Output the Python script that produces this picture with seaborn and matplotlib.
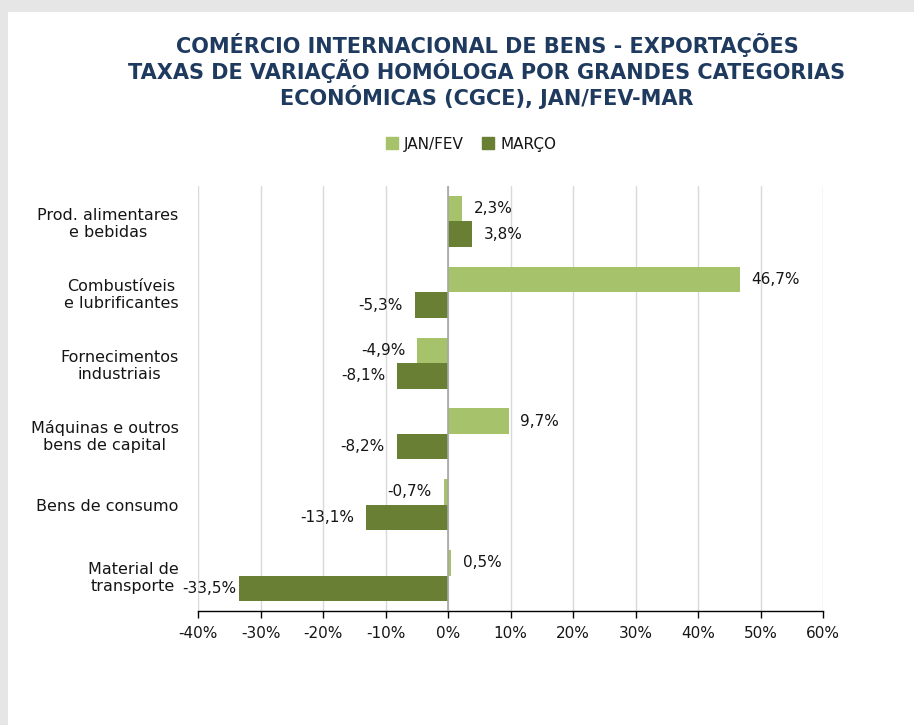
import pandas as pd
import matplotlib
matplotlib.use("Agg")
import matplotlib.pyplot as plt
from matplotlib.patches import Rectangle
from matplotlib.ticker import FuncFormatter, MultipleLocator
import seaborn as sns

categories = ["Prod. alimentares\ne bebidas", "Combustíveis\ne lubrificantes",
              "Fornecimentos\nindustriais", "Máquinas e outros\nbens de capital",
              "Bens de consumo", "Material de\ntransporte"]
jan_fev = [2.3, 46.7, -4.9, 9.7, -0.7, 0.5]
marco = [3.8, -5.3, -8.1, -8.2, -13.1, -33.5]
series = ["JAN/FEV", "MARÇO"]
colors = ["#a6c26a", "#687f34"]

df = pd.DataFrame({
    "categoria": categories * 2,
    "serie": [series[0]] * len(categories) + [series[1]] * len(categories),
    "valor": jan_fev + marco,
})

sns.set_style("white")
plt.rcParams["font.family"] = ["DejaVu Sans"]
txt = "#151515"

fig = plt.figure(figsize=(9.14, 7.25), dpi=100)
fig.patch.set_facecolor("#e6e6e6")
fig.patches.append(Rectangle((8 / 914, 0), 1, 1 - 12 / 725, transform=fig.transFigure,
                             facecolor="white", edgecolor="none", zorder=-10))

ax = fig.add_axes([198 / 914, 1 - 611 / 725, 625 / 914, 425 / 725])
ax.set_zorder(5)
ax.set_facecolor("white")
sns.barplot(data=df, y="categoria", x="valor", hue="serie", orient="h",
            palette=colors, saturation=1, width=0.72, linewidth=0, ax=ax,
            legend=False, zorder=3)

all_labels = []
for cont, vals in zip(ax.containers, [jan_fev, marco]):
    labs = [f"{v:.1f}%".replace(".", ",") for v in vals]
    all_labels.append(ax.bar_label(cont, labels=labs, padding=8.5, fontsize=11, color=txt))
# the -33,5% label sits tight against its bar in the original
all_labels[1][-1].xyann = (-1.5, 0)

ax.set_xlim(-40, 60)
ax.xaxis.set_major_locator(MultipleLocator(10))
ax.xaxis.set_major_formatter(FuncFormatter(lambda v, p: f"{v:.0f}%"))
ax.grid(axis="x", color="#d9d9d9", linewidth=1, zorder=0)
ax.axvline(0, color="#a6a6a6", linewidth=1.2, zorder=4)
ax.set_xlabel("")
ax.set_ylabel("")
for s in ["top", "right", "left"]:
    ax.spines[s].set_visible(False)
ax.spines["bottom"].set_color("black")
ax.spines["bottom"].set_linewidth(1)
ax.tick_params(axis="x", direction="out", length=5, width=1, color="black",
               labelsize=11, labelcolor=txt, pad=6, bottom=True)
ax.tick_params(axis="y", length=0, labelsize=11.5, labelcolor=txt, pad=14)
for lab in ax.get_yticklabels():
    lab.set_multialignment("center")

handles = [Rectangle((0, 0), 1, 1, color=c) for c in colors]
fig.legend(handles, series, loc="center", bbox_to_anchor=(471 / 914, 1 - 144 / 725),
           ncol=2, frameon=False, fontsize=11, handlelength=0.8, handleheight=0.8,
           handletextpad=0.4, columnspacing=1.2, labelcolor=txt)

fig.text(487 / 914, 1 - 71 / 725,
         "COMÉRCIO INTERNACIONAL DE BENS - EXPORTAÇÕES\n"
         "TAXAS DE VARIAÇÃO HOMÓLOGA POR GRANDES CATEGORIAS\n"
         "ECONÓMICAS (CGCE), JAN/FEV-MAR",
         ha="center", va="center", fontsize=15, fontweight="bold", color="#1f3a5f",
         linespacing=1.1)

fig.savefig("out.png", dpi=100, facecolor=fig.get_facecolor())
